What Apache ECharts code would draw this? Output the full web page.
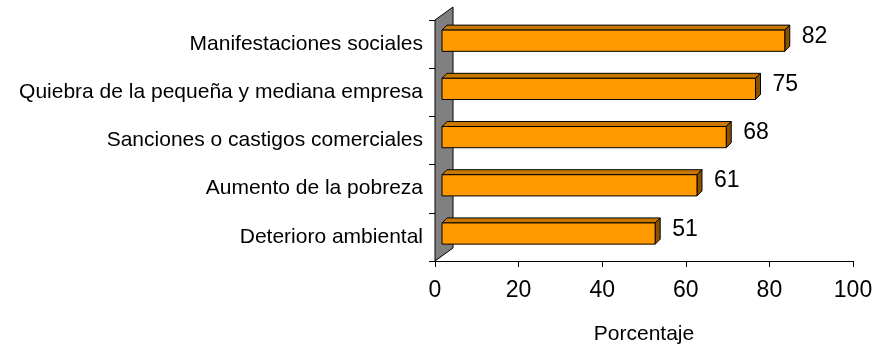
<!DOCTYPE html>
<html><head><meta charset="utf-8">
<script src="https://cdn.jsdelivr.net/npm/echarts@6/dist/echarts.min.js"></script>
<style>html,body{margin:0;padding:0;background:#fff}#c{width:877px;height:346px}</style>
</head><body><div id="c"></div>
<script>
const categories = ['Manifestaciones sociales','Quiebra de la pequeña y mediana empresa','Sanciones o castigos comerciales','Aumento de la pobreza','Deterioro ambiental'];
const values = [82, 75, 68, 61, 51];
const xTicks = [0, 20, 40, 60, 80, 100];
const axisName = 'Porcentaje';

const FONT = '"Liberation Sans", Arial, sans-serif';
const chart = echarts.init(document.getElementById('c'), null, {renderer: 'canvas'});

function wallItem(params, api) {
  const band = api.size([0, 1])[1];
  const top = api.coord([0, 0]);
  const bot = api.coord([0, categories.length - 1]);
  const x0 = top[0];
  const yTop = top[1] - band / 2;
  const yBot = bot[1] + band / 2;
  const dx = 18, dy = 13;
  return {
    type: 'polygon',
    shape: {points: [[x0, yBot], [x0 + dx, yBot - dy], [x0 + dx, yTop - dy], [x0, yTop]]},
    style: {fill: '#808080', stroke: '#000', lineWidth: 1}
  };
}

function barItem(params, api) {
  const ci = api.value(0);
  const v = api.value(1);
  const band = api.size([0, 1])[1];
  const p0 = api.coord([0, ci]);
  const p1 = api.coord([v, ci]);
  const off = 7;
  const xl = p0[0] + off, xr = p1[0] + off;
  const yt = p0[1] - 0.29 * band, yb = p0[1] + 0.15 * band;
  const d = 5;
  return {
    type: 'group',
    children: [
      {type: 'polygon', shape: {points: [[xl, yt], [xl + d, yt - d], [xr + d, yt - d], [xr, yt]]},
        style: {fill: '#C87800', stroke: '#000', lineWidth: 1}},
      {type: 'polygon', shape: {points: [[xr, yt], [xr + d, yt - d], [xr + d, yb - d], [xr, yb]]},
        style: {fill: '#8A5200', stroke: '#000', lineWidth: 1}},
      {type: 'rect', shape: {x: xl, y: yt, width: xr - xl, height: yb - yt},
        style: {fill: '#FF9900', stroke: '#000', lineWidth: 1}},
      {type: 'text', x: xr + d + 12, y: p0[1] - 0.16 * band,
        style: {text: String(v), font: '23px ' + FONT, fill: '#000', textAlign: 'left', textVerticalAlign: 'middle'}}
    ]
  };
}

chart.setOption({
  animation: false,
  backgroundColor: '#fff',
  grid: {left: 435, right: 24, top: 20, bottom: 85, containLabel: false, outerBoundsMode: 'none'},
  xAxis: {
    type: 'value', min: xTicks[0], max: xTicks[xTicks.length - 1], interval: 20,
    name: axisName, nameLocation: 'middle', nameGap: 63,
    nameTextStyle: {fontSize: 21, fontFamily: FONT, color: '#000'},
    axisLine: {show: true, lineStyle: {color: '#000', width: 1}},
    axisTick: {show: true, length: 6, lineStyle: {color: '#000'}},
    axisLabel: {fontSize: 23, fontFamily: FONT, color: '#000', margin: 18},
    splitLine: {show: false}
  },
  yAxis: {
    type: 'category', data: categories, inverse: true,
    axisLine: {show: true, lineStyle: {color: '#000', width: 1}},
    axisTick: {show: true, length: 6, lineStyle: {color: '#000'}},
    axisLabel: {fontSize: 21, fontFamily: FONT, color: '#000', margin: 12},
    splitLine: {show: false}
  },
  series: [
    {type: 'custom', renderItem: wallItem, data: [[0, 0]], silent: true, clip: false, z: 1},
    {type: 'custom', renderItem: barItem, data: values.map((v, i) => [i, v]), clip: false, z: 2,
      encode: {x: 1, y: 0}}
  ]
});
</script></body></html>
